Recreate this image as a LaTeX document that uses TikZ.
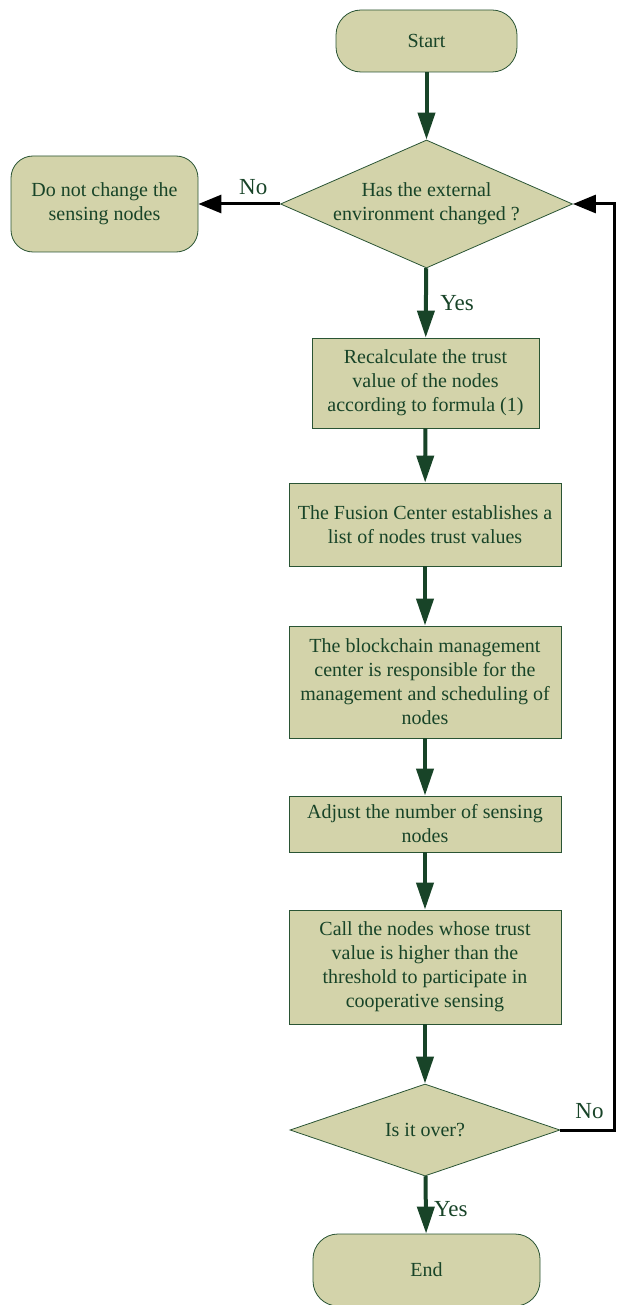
\documentclass[tikz,border=0pt]{standalone}
\usepackage{fontspec}
\setmainfont{Liberation Serif}
\usepackage{xcolor}
\usetikzlibrary{arrows.meta,shapes.geometric,positioning}
\definecolor{boxfill}{RGB}{211,211,170}
\definecolor{boxline}{RGB}{42,84,52}
\definecolor{flowgreen}{RGB}{24,68,40}
\begin{document}
\begin{tikzpicture}[x=1pt,y=-1pt,
  every node/.style={text=flowgreen,font=\fontsize{20}{24}\selectfont},
  terminal/.style={draw=boxline,fill=boxfill,rounded corners=25pt,line width=0.8pt,minimum width=#1,minimum height=62pt,inner sep=0pt},
  process/.style={draw=boxline,fill=boxfill,line width=0.8pt,align=center,minimum width=#1,inner sep=0pt},
  decision/.style={draw=boxline,fill=boxfill,diamond,line width=0.8pt,align=center,inner sep=0pt,aspect=2.5},
  flow/.style={draw=flowgreen,line width=4pt,-{Triangle[length=27pt,width=17pt]}},
  back/.style={draw=black,line width=3pt,-{Triangle[length=23pt,width=18pt]}},
  lbl/.style={font=\fontsize{23}{27}\selectfont}]
  \useasboundingbox (0,0) rectangle (618,1305);
  \node[terminal=181pt] (start) at (426.5,41) {Start};
  \node[decision,minimum width=289pt,minimum height=128pt] (env) at (426.5,204) {Has the external\\environment changed ?};
  \node[terminal=187pt,minimum height=96pt,rounded corners=22pt,align=center] (keep) at (104.5,204) {Do not change the\\sensing nodes};
  \node[process=227pt,minimum height=90pt] (calc) at (425.5,383) {Recalculate the trust\\value of the nodes\\according to formula (1)};
  \node[process=272pt,minimum height=83pt] (list) at (425,524.5) {The Fusion Center establishes a\\list of nodes trust values};
  \node[process=272pt,minimum height=112pt] (chain) at (425,682) {The blockchain management\\center is responsible for the\\management and scheduling of\\nodes};
  \node[process=272pt,minimum height=56pt] (adjust) at (425,824) {Adjust the number of sensing\\nodes};
  \node[process=272pt,minimum height=114pt] (call) at (425,967) {Call the nodes whose trust\\value is higher than the\\threshold to participate in\\cooperative sensing};
  \node[decision,minimum width=270pt,minimum height=92pt] (over) at (425,1130) {Is it over?};
  \node[terminal=227pt,minimum height=72pt] (end) at (426.5,1270) {End};

  \draw[flow] (start) -- (env);
  \draw[flow] (env) -- node[lbl,right,xshift=9pt] {Yes} (calc);
  \draw[flow] (calc) -- (list);
  \draw[flow] (list) -- (chain);
  \draw[flow] (chain) -- (adjust);
  \draw[flow] (adjust) -- (call);
  \draw[flow] (call) -- (over);
  \draw[flow] (over) -- node[lbl,right,xshift=3pt,yshift=-4pt] {Yes} (end);
  \draw[back] (env) -- node[lbl,above,xshift=14pt,yshift=4pt] {No} (keep);
  \draw[back] (over.east) -- ++(54,0) node[lbl,above left,xshift=-6pt,yshift=6pt] {No} |- (env.east);
\end{tikzpicture}
\end{document}
